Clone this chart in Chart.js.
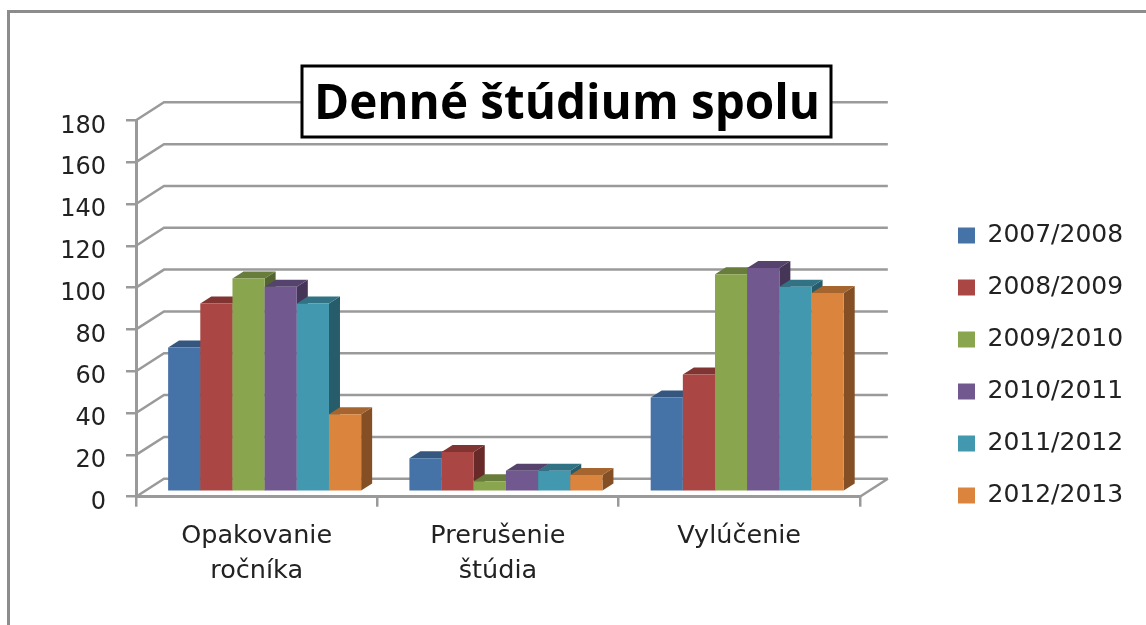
<!DOCTYPE html>
<html>
<head>
<meta charset="utf-8">
<script src="https://cdn.jsdelivr.net/npm/chart.js@4"></script>
<style>
html, body { margin: 0; padding: 0; background: #fff; }
canvas { display: block; }
</style>
</head>
<body>
<canvas id="chart" width="1146" height="625"></canvas>
<script>
const chartTitle = 'Denné štúdium spolu'
const categories = [['Opakovanie', 'ročníka'], ['Prerušenie', 'štúdia'], ['Vylúčenie']]
const years = ['2007/2008', '2008/2009', '2009/2010', '2010/2011', '2011/2012', '2012/2013']

const values0708 = [69, 16, 45]
const values0809 = [90, 19, 56]
const values0910 = [102, 5, 104]
const values1011 = [98, 10, 107]
const values1112 = [90, 10, 98]
const values1213 = [37, 8, 95]
const allValues = [values0708, values0809, values0910, values1011, values1112, values1213]

const faceColors = ['#4572A7', '#AA4643', '#89A54E', '#71588F', '#4198AF', '#DB843D']
const topColors = ['#35577F', '#813533', '#687D3B', '#56436D', '#317385', '#A6642E']
const sideColors = ['#2A4565', '#672A29', '#536430', '#453657', '#275C6A', '#854F25']

const gray = '#9a9a9a'
const textColor = '#222'
// 3d look: wall offset, bar offset from the front edge, bar depth
const wall = { dx: 28, dy: -18 }
const barShift = { dx: 8, dy: -5 }
const barDepth = { dx: 11, dy: -7 }

function poly(ctx, pts, color) {
    ctx.fillStyle = color
    ctx.beginPath()
    pts.forEach((p, i) => i ? ctx.lineTo(p[0], p[1]) : ctx.moveTo(p[0], p[1]))
    ctx.closePath()
    ctx.fill()
}

const fake3d = {
    id: 'fake3d',
    afterLayout(chart) {
        // legend and title sit where the scales would not leave room for them
        chart.legend.left = 931
        chart.legend.right = 1146
        chart.legend.top += 53
        chart.legend.bottom += 53
        chart.titleBlock.top += 45
        chart.titleBlock.bottom += 45
        chart.titleBlock.left += 36
        chart.titleBlock.right += 36
    },
    beforeDraw(chart) {
        const ctx = chart.ctx
        const { left, right } = chart.chartArea
        ctx.save()
        ctx.fillStyle = '#fff'
        ctx.fillRect(0, 0, chart.width, chart.height)

        // outer frame of the screenshot
        ctx.strokeStyle = '#8c8c8c'
        ctx.lineWidth = 3
        ctx.beginPath()
        ctx.moveTo(8.5, 625)
        ctx.lineTo(8.5, 11.5)
        ctx.lineTo(1146, 11.5)
        ctx.stroke()

        // gridlines on the side and back wall
        ctx.strokeStyle = gray
        ctx.lineWidth = 2.5
        chart.scales.y.ticks.forEach(t => {
            const y = chart.scales.y.getPixelForValue(t.value)
            ctx.beginPath()
            ctx.moveTo(left, y)
            ctx.lineTo(left + wall.dx, y + wall.dy)
            ctx.lineTo(right + wall.dx, y + wall.dy)
            ctx.stroke()
        })
        const y0 = chart.scales.y.getPixelForValue(0)
        ctx.beginPath()
        ctx.moveTo(right, y0)
        ctx.lineTo(right + wall.dx, y0 + wall.dy)
        ctx.stroke()

        // box behind the title
        ctx.fillStyle = '#fff'
        ctx.fillRect(302, 66, 529, 71)
        ctx.strokeStyle = '#000'
        ctx.lineWidth = 3
        ctx.strokeRect(302, 66, 529, 71)
        ctx.restore()
    },
    // library paints datasets last to first, here each bar has to cover the side of the one before
    beforeDatasetDraw() {
        return false
    },
    afterDatasetsDraw(chart) {
        const ctx = chart.ctx
        ctx.save()
        ctx.translate(barShift.dx, barShift.dy)
        years.forEach((year, i) => {
            chart.getDatasetMeta(i).data.forEach(bar => {
                const l = bar.x - bar.width / 2
                const r = bar.x + bar.width / 2
                const t = bar.y
                const b = bar.base
                poly(ctx, [[r, t], [r, b], [r + barDepth.dx, b + barDepth.dy], [r + barDepth.dx, t + barDepth.dy]], sideColors[i])
                poly(ctx, [[l, t], [r, t], [r + barDepth.dx, t + barDepth.dy], [l + barDepth.dx, t + barDepth.dy]], topColors[i])
                bar.draw(ctx)
            })
        })
        ctx.restore()
    }
}

new Chart(document.getElementById('chart'), {
    type: 'bar',
    data: {
        labels: categories,
        datasets: years.map((year, i) => ({
            label: year,
            data: allValues[i],
            backgroundColor: faceColors[i],
            borderWidth: 0,
            categoryPercentage: 0.8,
            barPercentage: 1
        }))
    },
    options: {
        responsive: false,
        animation: false,
        layout: { padding: { right: 84 } },
        scales: {
            x: {
                afterFit(scale) { scale.height = 128.3 },
                grid: { drawOnChartArea: false, color: gray, lineWidth: 2.5, tickLength: 10 },
                border: { color: gray, width: 3 },
                ticks: {
                    color: textColor,
                    padding: 12,
                    maxRotation: 0,
                    autoSkip: false,
                    font: { family: 'DejaVu Sans', size: 25.5, lineHeight: 1.37 }
                }
            },
            y: {
                min: 0,
                max: 180,
                afterFit(scale) { scale.width = 136 },
                grid: { drawOnChartArea: false, color: gray, lineWidth: 2.5, tickLength: 10 },
                border: { color: gray, width: 3 },
                ticks: {
                    stepSize: 20,
                    color: textColor,
                    padding: 20,
                    labelOffset: 6,
                    font: { family: 'DejaVu Sans', size: 24 }
                }
            }
        },
        plugins: {
            title: {
                display: true,
                text: chartTitle,
                color: '#000',
                padding: { top: 31.6, bottom: 31.6 },
                font: { family: 'Open Sans', size: 47.6, weight: 'bold', lineHeight: 1.2 }
            },
            legend: {
                display: true,
                position: 'right',
                labels: {
                    boxWidth: 17,
                    boxHeight: 16,
                    padding: 27,
                    color: textColor,
                    font: { family: 'DejaVu Sans', size: 25 }
                }
            },
            tooltip: { enabled: false }
        }
    },
    plugins: [fake3d]
})
</script>
</body>
</html>
